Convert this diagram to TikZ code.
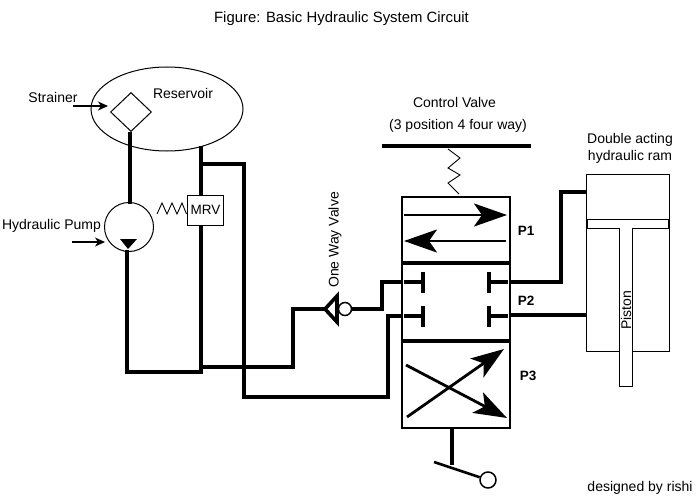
\documentclass[tikz,border=0pt]{standalone}
\usepackage{fontspec}
\setmainfont{Liberation Sans}
\usetikzlibrary{positioning,arrows.meta,shapes.geometric}

\tikzset{
    label text/.style={inner sep=0pt,font=\fontsize{14}{16}\selectfont},
    port text/.style={inner sep=0pt,font=\fontsize{13.5}{15}\selectfont\bfseries},
    thin part/.style={draw,line width=1pt,inner sep=0pt,fill=white},
    pipe/.style={line width=4pt,line join=miter},
    valve box/.style={draw,line width=2pt,inner sep=0pt,minimum width=108pt},
    flow/.style={line width=2.8pt,-{Stealth[length=33pt,width=23pt,inset=8pt]}},
    pointer/.style={line width=1.3pt,-{Stealth[length=10pt,width=9pt,inset=3pt]}},
    stopper/.style={line width=3.8pt},
    coil/.style={line width=0.9pt,line join=miter}
}

\begin{document}
\begin{tikzpicture}[x=1pt,y=-1pt]
    \useasboundingbox (0,0) rectangle (700,500);

    \node[label text,font=\fontsize{14.9}{16}\selectfont] (title) at (341.5,19) {Figure: Basic Hydraulic System Circuit};

    \node[thin part,ellipse,minimum width=152pt,minimum height=84pt] (reservoir) at (167,109) {};
    \node[thin part,diamond,aspect=1,minimum width=41pt,minimum height=39pt] (strainer) at (131,112) {};
    \node[label text] (reservoirtext) at (183,93) {Reservoir};
    \node[label text] (strainertext) at (53,97) {Strainer};
    \node[thin part,circle,minimum size=49pt] (pump) at (129,227) {};
    \node[label text] (pumptext) at (51.5,226) {Hydraulic Pump};
    \node[thin part,minimum width=36pt,minimum height=30pt,font=\fontsize{13.5}{15}\selectfont] (mrv) at (205,210) {\hspace{1pt}MRV};

    \node[valve box,minimum height=67pt] (pone) at (456,230.5) {};
    \node[valve box,minimum height=76pt] (ptwo) at (456,302) {};
    \node[valve box,minimum height=88pt] (pthree) at (456,384) {};
    \node[port text] (ponetext) at (526,231) {P1};
    \node[port text] (ptwotext) at (526,301) {P2};
    \node[port text] (pthreetext) at (528,376) {P3};
    \node[label text] (valvetext) at (454.5,102) {Control Valve};
    \node[label text] (positiontext) at (458,126) {(3 position 4 four way)};
    \node[label text,rotate=90] (checktext) at (335,240) {One Way Valve};

    \node[thin part,minimum width=83pt,minimum height=177pt] (ram) at (627.5,262.5) {};
    \draw[line width=1pt,fill=white] (587,219) -- (668,219) -- (668,228) -- (632,228) -- (632,386) -- (619,386) -- (619,228) -- (587,228) -- cycle;
    \node[label text,rotate=90] (pistontext) at (626,310) {Piston};
    \node[label text,align=center,font=\fontsize{14}{17}\selectfont] (ramtext) at (630,148) {Double acting\\hydraulic ram};
    \node[label text] (signtext) at (640,488) {designed by rishi};

    \coordinate (strainerfoot) at (130,132);
    \coordinate (pumptop) at (130,204);
    \coordinate (pumpfoot) at (127,250);
    \coordinate (returntop) at (201,146);
    \coordinate (returnfoot) at (201,195);
    \coordinate (mrvfoot) at (201,225);
    \coordinate (branch) at (201,164);
    \coordinate (checktip) at (325,309);
    \coordinate (portA) at (402,282);
    \coordinate (portB) at (402,316);
    \coordinate (portC) at (510,282);
    \coordinate (portD) at (510,315);
    \coordinate (ramA) at (586,192);
    \coordinate (ramB) at (586,315);
    \coordinate (barleft) at (382,146);
    \coordinate (barright) at (531,146);
    \coordinate (handletop) at (452,428);
    \coordinate (grip) at (452,465);
    \coordinate (leverend) at (434,462);
    \coordinate (strainertip) at (108,106);
    \coordinate (pumptip) at (105,242);

    \draw[line width=3.6pt,fill=white,line join=miter] (checktip) -- (337,296) -- (337,322) -- cycle;
    \node[circle,draw,line width=1.5pt,fill=white,inner sep=0pt,minimum size=13pt] (ball) at (345,309) {};
    \node[circle,draw,line width=1.5pt,inner sep=0pt,minimum size=16pt] (knob) at (488,480) {};

    % Pipes
    \draw[pipe] (strainerfoot) -- (pumptop);
    \draw[pipe] (returntop) -- (returnfoot);
    \draw[pipe] (pumpfoot) -- (127,372) -- (201,372) -- (mrvfoot);
    \draw[pipe] (201,367) -- (293,367) -- (293,309) -- (checktip);
    \draw[pipe] (branch) -- (246,164);
    \draw[pipe] (244,164) -- (244,399);
    \draw[pipe] (244,397) -- (388,397) -- (388,316) -- (portB);
    \draw[pipe] (ball) -- (382,309) -- (382,282) -- (portA);
    \draw[pipe] (portC) -- (561,282) -- (561,192) -- (ramA);
    \draw[pipe] (portD) -- (ramB);
    \draw[line width=4pt] (barleft) -- (barright);
    \draw[line width=3.6pt] (ptwo.north west) -- (ptwo.north east);
    \draw[line width=3.6pt] (ptwo.south west) -- (ptwo.south east);

    % Pointers
    \draw[pointer] (73,106) -- (strainertip);
    \draw[pointer] (72,242) -- (pumptip);

    % Symbols
    \fill (120,239) -- (137,239) -- (128,249) -- cycle;
    \draw[coil] (157,214) -- (162,203) -- (167,214) -- (172,203) -- (177,214) -- (182,203) -- (mrv.west |- 0,214);
    \draw[coil] (448,149) -- (460,158) -- (448,168) -- (460,175) -- (448,183) -- (459,194);

    \draw[flow] (404,215) -- (507,215);
    \draw[flow] (506,241) -- (404,241);
    \draw[flow] (407,417) -- (504,349);
    \draw[flow] (406,365) -- (507,418);

    \draw[stopper] (404,282) -- (424,282);
    \draw[stopper] (423,272) -- (423,293);
    \draw[stopper] (404,316) -- (424,316);
    \draw[stopper] (423,306) -- (423,327);
    \draw[stopper] (489,282) -- (508,282);
    \draw[stopper] (489,272) -- (489,293);
    \draw[stopper] (489,316) -- (508,316);
    \draw[stopper] (489,306) -- (489,327);

    \draw[stopper] (handletop) -- (grip);
    \draw[line width=2.6pt] (leverend) -- (knob);
\end{tikzpicture}
\end{document}
